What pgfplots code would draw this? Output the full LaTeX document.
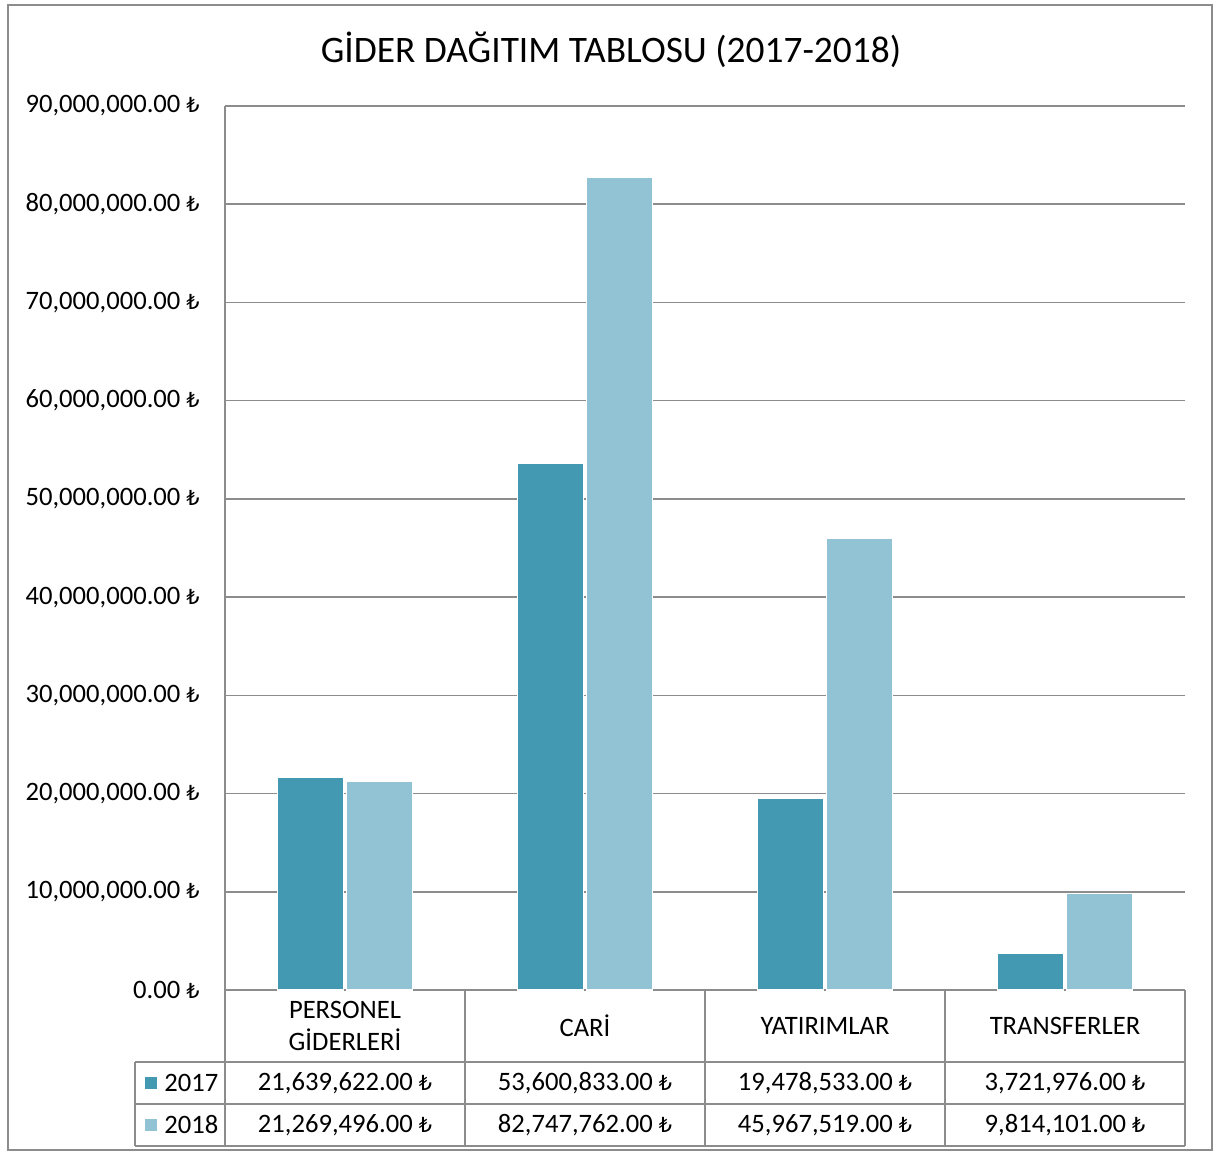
\documentclass[border=0pt]{standalone}
\usepackage{pgfplots}
\pgfplotsset{compat=1.18}
\usepackage{fontspec}
\setmainfont{Carlito}
\newfontfamily\dejavu[Scale=0.78]{DejaVu Sans}
\newcommand{\TL}{{\dejavu ₺}}
\definecolor{c17}{HTML}{4398B2}
\definecolor{c18}{HTML}{92C3D5}
\definecolor{gridc}{HTML}{8C8C8C}
\newcommand{\lab}{\fontsize{13.3}{16}\selectfont}
\begin{document}
\begin{tikzpicture}
\useasboundingbox (-112.5pt,-82.5pt) rectangle (494.5pt,495pt);
\draw[gridc, line width=0.9pt] (-108.5pt,-80pt) rectangle (493.5pt,492.5pt);
\begin{axis}[
  at={(0pt,0pt)}, anchor=south west,
  scale only axis, width=480pt, height=442pt,
  xmin=-0.5, xmax=3.5, ymin=0, ymax=9e7,
  scaled y ticks=false,
  ybar=1.2pt, bar width=33pt,
  axis lines=left,
  axis line style={-, draw=gridc, line width=0.8pt},
  ymajorgrids, grid style={draw=gridc, line width=0.75pt},
  major tick length=0pt,
  xtick={0,1,2,3},
  xticklabels={{PERSONEL\\GİDERLERİ},{CARİ},{YATIRIMLAR},{TRANSFERLER}},
  xticklabel style={font=\lab, align=center, anchor=center, yshift=-18pt, inner sep=0pt},
  ytick={0,1e7,2e7,3e7,4e7,5e7,6e7,7e7,8e7,9e7},
  yticklabels={{0.00 \TL},{10,000,000.00 \TL},{20,000,000.00 \TL},{30,000,000.00 \TL},{40,000,000.00 \TL},{50,000,000.00 \TL},{60,000,000.00 \TL},{70,000,000.00 \TL},{80,000,000.00 \TL},{90,000,000.00 \TL}},
  yticklabel style={font=\lab, anchor=east, inner sep=0pt, xshift=-12.5pt},
  clip=false,
]
\addplot[fill=c17, draw=white, line width=0.6pt] coordinates {(0,21639622) (1,53600833) (2,19478533) (3,3721976)};
\addplot[fill=c18, draw=white, line width=0.6pt] coordinates {(0,21269496) (1,82747762) (2,45967519) (3,9814101)};
\end{axis}
% data table
\begin{scope}[gridc, line width=0.8pt]
\foreach \x in {0,120,240,360,480} \draw (\x pt,0pt) -- (\x pt,-78pt);
\draw (-45pt,-36pt) -- (480pt,-36pt);
\draw (-45pt,-57pt) -- (480pt,-57pt);
\draw (-45pt,-78pt) -- (480pt,-78pt);
\draw (-45pt,-36pt) -- (-45pt,-78pt);
\end{scope}
\fill[c17] (-40pt,-49.5pt) rectangle (-34pt,-43.5pt);
\fill[c18] (-40pt,-70.5pt) rectangle (-34pt,-64.5pt);
\node[anchor=west, inner sep=0pt, font=\lab] at (-30.5pt,-46.5pt) {2017};
\node[anchor=west, inner sep=0pt, font=\lab] at (-30.5pt,-67.5pt) {2018};
\node[font=\lab, inner sep=0pt] at (60pt,-46.5pt) {21,639,622.00 \TL};
\node[font=\lab, inner sep=0pt] at (60pt,-67.5pt) {21,269,496.00 \TL};
\node[font=\lab, inner sep=0pt] at (180pt,-46.5pt) {53,600,833.00 \TL};
\node[font=\lab, inner sep=0pt] at (180pt,-67.5pt) {82,747,762.00 \TL};
\node[font=\lab, inner sep=0pt] at (300pt,-46.5pt) {19,478,533.00 \TL};
\node[font=\lab, inner sep=0pt] at (300pt,-67.5pt) {45,967,519.00 \TL};
\node[font=\lab, inner sep=0pt] at (420pt,-46.5pt) {3,721,976.00 \TL};
\node[font=\lab, inner sep=0pt] at (420pt,-67.5pt) {9,814,101.00 \TL};
\node[font=\fontsize{18.7}{22}\selectfont, inner sep=0pt] at (193pt,470pt) {GİDER DAĞITIM TABLOSU (2017-2018)};
\end{tikzpicture}
\end{document}
